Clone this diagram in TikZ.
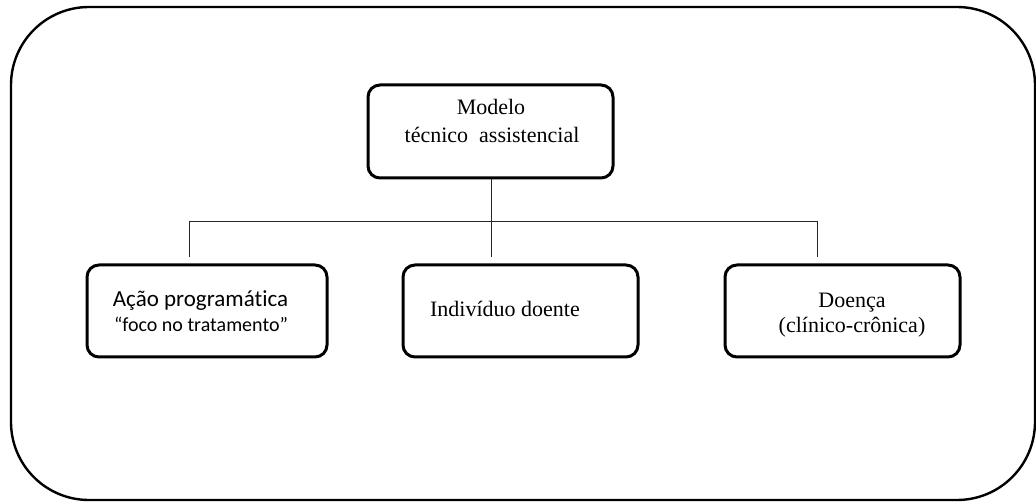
\documentclass[tikz,border=0pt]{standalone}
\usepackage{fontspec}
\setmainfont{Liberation Serif}
\newfontfamily\calfont[Ligatures=NoCommon]{Carlito}
\begin{document}
\begin{tikzpicture}[x=1pt,y=-1pt,
  boxstyle/.style={draw=black,line width=3pt,rounded corners=12pt,inner sep=0pt,minimum height=92pt},
  wire/.style={draw=black!85,line width=1pt},
  serif/.style={anchor=base,inner sep=0pt,font=\fontsize{22}{26}\selectfont},
  cal/.style={anchor=base,inner sep=0pt,font=\calfont\fontsize{23}{27}\selectfont}]
\useasboundingbox (0,0) rectangle (1036,502);
% outer frame
\draw[line width=2.4pt,rounded corners=78pt] (11,7) rectangle (1035,500);
% boxes
\node[boxstyle,minimum width=245pt,minimum height=93pt] (top) at (490.5,131.5) {};
\node[boxstyle,minimum width=240pt] (left) at (207,311) {};
\node[boxstyle,minimum width=235pt] (mid) at (520.5,311) {};
\node[boxstyle,minimum width=235pt] (right) at (842.5,311) {};
% texts
\node[serif] (t1) at (491,115) {Modelo};
\node[serif] (t2) at (492,143) {técnico\ \ assistencial};
\node[cal] (l1) at (200.5,307) {Ação programática};
\node[cal,font=\calfont\fontsize{20}{24}\selectfont] (l2) at (201,332) {“foco no tratamento”};
\node[serif] (m1) at (505,317) {Indivíduo doente};
\node[serif] (r1) at (852,308) {Doença};
\node[serif] (r2) at (852,333) {(clínico-crônica)};
% connectors
\coordinate (hl) at (189.5,222);
\coordinate (hr) at (817,222);
\coordinate (dl) at (189.5,257);
\coordinate (dr) at (817,257);
\coordinate (dm) at (491,257);
\draw[wire] (top.south -| dm) -- (dm);
\draw[wire] (dl) -- (hl) -- (hr) -- (dr);
\end{tikzpicture}
\end{document}
